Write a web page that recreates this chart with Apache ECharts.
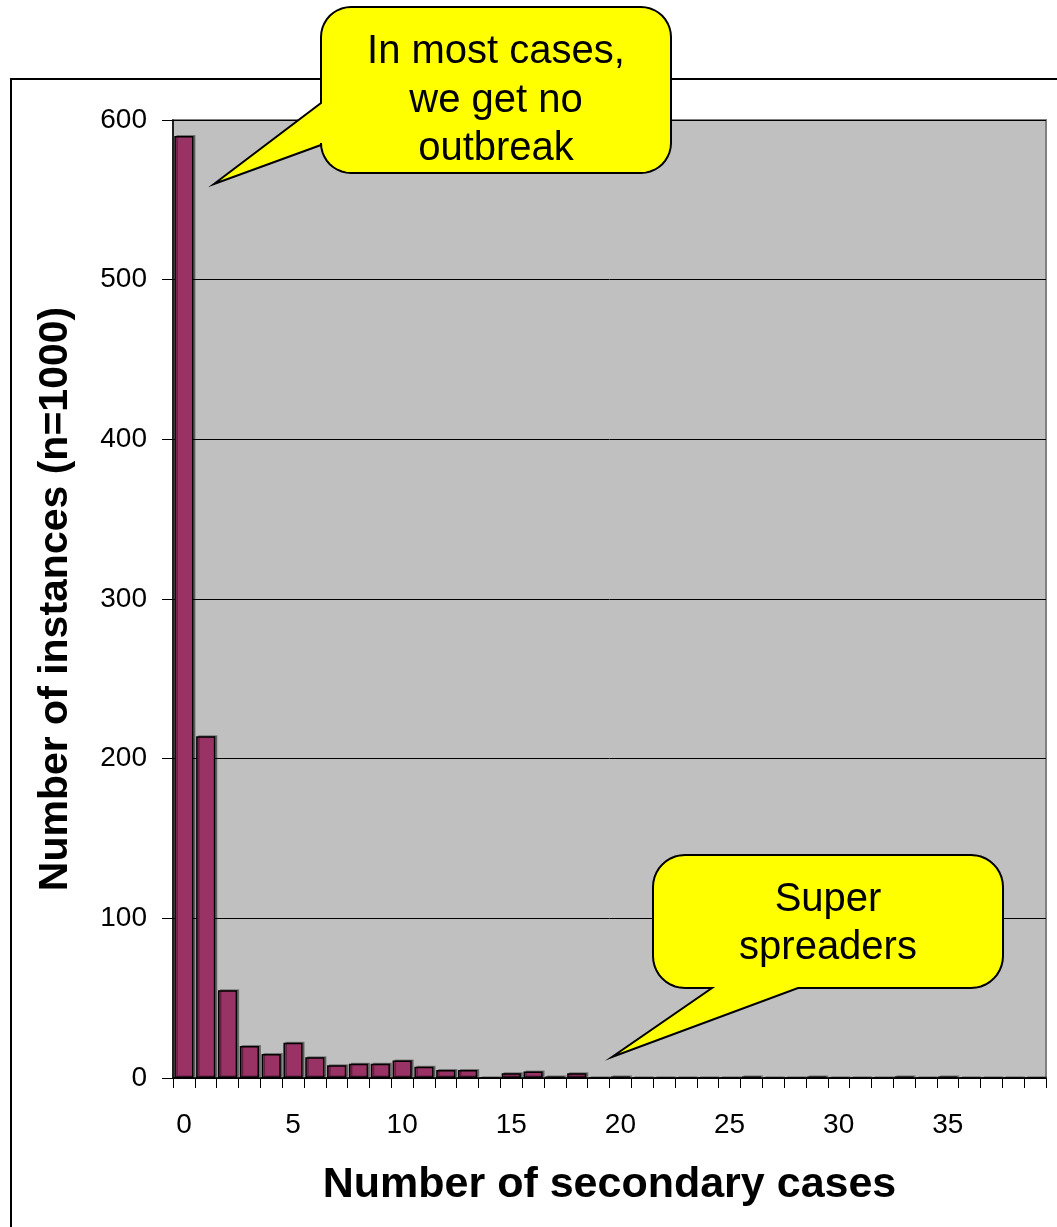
<!DOCTYPE html>
<html>
<head>
<meta charset="utf-8">
<script src="https://cdn.jsdelivr.net/npm/echarts@6/dist/echarts.min.js"></script>
<style>
  html, body { margin: 0; padding: 0; background: #ffffff; }
  #chart { width: 1057px; height: 1227px; }
</style>
</head>
<body>
<div id="chart"></div>
<script>
// Number of secondary cases per index case (0..39)
const secondaryCases = Array.from({ length: 40 }, (_, i) => String(i));
// Number of instances observed for each count (n = 1000 runs)
const instances = [
  590, 214, 55, 20, 15, 22, 13, 8, 9, 9,
  11, 7, 5, 5, 0, 3, 4, 1, 3, 0,
  1, 0, 0, 0, 0, 0, 1, 0, 0, 1,
  0, 0, 0, 1, 0, 1, 0, 0, 0, 0
];
const yTicks = { min: 0, max: 600, interval: 100 };

const FONT = "'Liberation Sans', Arial, sans-serif";
const chart = echarts.init(document.getElementById('chart'), null, { renderer: 'canvas' });

// Quarter-circle corner points (centre cx,cy), from angle a0 to a1
function arc(cx, cy, r, a0, a1) {
  const pts = [];
  const n = 10;
  for (let i = 0; i <= n; i++) {
    const a = a0 + (a1 - a0) * i / n;
    pts.push([cx + r * Math.cos(a), cy + r * Math.sin(a)]);
  }
  return pts;
}

// Speech-bubble outline: rounded box with a pointed tail
function bubblePoints(x1, y1, x2, y2, r, side, b1, b2, tip) {
  const P = Math.PI;
  let pts = [];
  pts = pts.concat(arc(x2 - r, y1 + r, r, -P / 2, 0));         // top-right
  pts = pts.concat(arc(x2 - r, y2 - r, r, 0, P / 2));          // bottom-right
  if (side === 'bottom') {
    pts.push([b1, y2], tip, [b2, y2]);
  }
  pts = pts.concat(arc(x1 + r, y2 - r, r, P / 2, P));          // bottom-left
  if (side === 'left') {
    pts.push([x1, b1], tip, [x1, b2]);
  }
  pts = pts.concat(arc(x1 + r, y1 + r, r, P, 1.5 * P));        // top-left
  return pts;
}

function bubbleText(lines, cx, ys) {
  return lines.map((t, i) => ({
    type: 'text',
    z: 101,
    style: {
      text: t, x: cx, y: ys[i],
      font: `40px ${FONT}`,
      fill: '#000',
      textAlign: 'center', textVerticalAlign: 'middle'
    }
  }));
}

const option = {
  backgroundColor: '#ffffff',
  animation: false,
  grid: {
    left: 173, right: 11, top: 120, bottom: 149,
    show: true, backgroundColor: '#c0c0c0',
    borderColor: '#808080', borderWidth: 2
  },
  xAxis: {
    type: 'category',
    data: secondaryCases,
    name: 'Number of secondary cases',
    nameLocation: 'middle',
    nameGap: 86,
    nameTextStyle: { fontFamily: FONT, fontSize: 43, fontWeight: 'bold', color: '#000' },
    axisLine: { show: true, lineStyle: { color: '#000', width: 1.5 } },
    axisTick: { show: true, interval: 0, length: 10, lineStyle: { color: '#000', width: 1 } },
    axisLabel: { interval: 4, margin: 33, fontFamily: FONT, fontSize: 28, color: '#000' },
    splitLine: { show: false }
  },
  yAxis: {
    type: 'value',
    min: yTicks.min, max: yTicks.max, interval: yTicks.interval,
    name: 'Number of instances (n=1000)',
    nameLocation: 'middle',
    nameGap: 97,
    nameTextStyle: { fontFamily: FONT, fontSize: 41, fontWeight: 'bold', color: '#000' },
    axisLine: { show: true, lineStyle: { color: '#000', width: 1.5 } },
    axisTick: { show: true, length: 11, lineStyle: { color: '#000', width: 1 } },
    axisLabel: { margin: 26, fontFamily: FONT, fontSize: 28, color: '#000' },
    splitLine: { show: true, lineStyle: { color: '#000', width: 1 } }
  },
  series: [{
    type: 'bar',
    data: instances,
    barCategoryGap: '12%',
    itemStyle: {
      color: '#993366',
      borderColor: '#000',
      borderWidth: 1.5,
      shadowColor: 'rgba(0,0,0,0.35)',
      shadowOffsetX: 2,
      shadowOffsetY: -1
    },
    z: 3
  }],
  graphic: [
    // outer chart frame
    {
      type: 'rect', z: -1, silent: true,
      shape: { x: 11, y: 79, width: 1100, height: 1200 },
      style: { fill: 'none', stroke: '#000', lineWidth: 2 }
    },
    {
      type: 'polygon', z: 100,
      shape: { points: bubblePoints(321, 7, 671, 173, 30, 'left', 145, 103, [214, 184]) },
      style: { fill: '#ffff00', stroke: '#000', lineWidth: 2 }
    },
    ...bubbleText(['In most cases,', 'we get no', 'outbreak'], 496, [52, 101, 149]),
    {
      type: 'polygon', z: 100,
      shape: { points: bubblePoints(653, 855, 1003, 988, 32, 'bottom', 798, 712, [612, 1057]) },
      style: { fill: '#ffff00', stroke: '#000', lineWidth: 2 }
    },
    ...bubbleText(['Super', 'spreaders'], 828, [900, 948])
  ]
};

chart.setOption(option);
</script>
</body>
</html>
